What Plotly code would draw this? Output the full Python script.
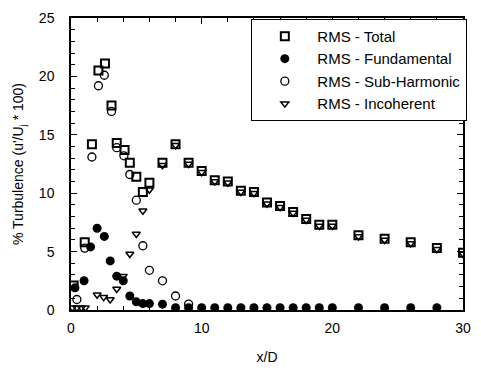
import plotly.graph_objects as go

# Data
tot_x = [0.2, 1.05, 1.6, 2.1, 2.6, 3.1, 3.5, 4.1, 4.5, 5.0, 5.5, 6.0, 7, 8, 9, 10, 11, 12, 13, 14, 15, 16, 17, 18, 19, 20, 22, 24, 26, 28, 30]
tot_y = [2.1, 5.8, 14.2, 20.5, 21.1, 17.5, 14.3, 13.7, 12.6, 11.4, 10.1, 10.9, 12.6, 14.2, 12.6, 11.9, 11.1, 11.0, 10.2, 10.1, 9.2, 8.9, 8.4, 7.8, 7.3, 7.3, 6.4, 6.1, 5.8, 5.3, 4.9]

fun_x = [0.3, 1.0, 1.5, 2.0, 2.55, 3.0, 3.5, 4.0, 4.5, 5.0, 5.5, 6.0, 7, 8, 9, 10, 11, 12, 13, 14, 15, 16, 17, 18, 19, 20, 22, 24, 26, 28]
fun_y = [1.9, 2.5, 5.4, 7.0, 6.3, 4.2, 2.9, 2.5, 1.2, 0.7, 0.55, 0.55, 0.5, 0.2, 0.2, 0.2, 0.2, 0.2, 0.2, 0.2, 0.2, 0.2, 0.2, 0.2, 0.2, 0.2, 0.2, 0.2, 0.2, 0.2]

sub_x = [0.45, 1.05, 1.6, 2.1, 2.55, 3.1, 3.5, 4.05, 4.5, 5.0, 5.5, 6.0, 7.0, 8.0, 9.0]
sub_y = [0.9, 5.3, 13.1, 19.2, 20.1, 17.0, 13.9, 13.2, 11.6, 9.4, 5.5, 3.4, 2.5, 1.2, 0.5]

inc_x = [0.1, 0.45, 0.8, 1.1, 2.0, 2.5, 3.0, 3.5, 4.0, 4.5, 5.0, 5.5, 6.0, 7, 8, 9, 10, 11, 12, 13, 14, 15, 16, 17, 18, 19, 20, 22, 24, 26, 28, 30]
inc_y = [0.2, 0.2, 0.2, 0.2, 1.3, 1.1, 0.9, 1.8, 2.9, 4.8, 6.5, 8.5, 10.3, 12.4, 14.1, 12.5, 11.8, 11.0, 10.9, 10.1, 10.0, 9.1, 8.8, 8.3, 7.7, 7.2, 7.2, 6.3, 6.0, 5.7, 5.2, 4.8]

names = ["RMS - Total", "RMS - Fundamental", "RMS - Sub-Harmonic", "RMS - Incoherent"]

FONT = "Liberation Sans, Arial, Helvetica, sans-serif"

fig = go.Figure()
fig.add_trace(go.Scatter(x=tot_x, y=tot_y, mode="markers", name=names[0],
                         marker=dict(symbol="square-open", size=8, color="black", line=dict(width=2))))
fig.add_trace(go.Scatter(x=fun_x, y=fun_y, mode="markers", name=names[1],
                         marker=dict(symbol="circle", size=9, color="black")))
fig.add_trace(go.Scatter(x=sub_x, y=sub_y, mode="markers", name=names[2],
                         marker=dict(symbol="circle-open", size=8, color="black", line=dict(width=1.3))))
fig.add_trace(go.Scatter(x=inc_x, y=inc_y, mode="markers", name=names[3],
                         marker=dict(symbol="triangle-down-open", size=7, color="black", line=dict(width=1.5))))

axis_common = dict(
    showline=True, linecolor="black", linewidth=1.5, mirror="ticks",
    ticks="inside", ticklen=6, tickwidth=1.2, tickcolor="black",
    showgrid=False, zeroline=False,
    tickfont=dict(family=FONT, size=14, color="black"),
)

fig.update_xaxes(range=[0, 30], tick0=0, dtick=10,
                 minor=dict(ticks="inside", ticklen=4, dtick=2, tickcolor="black", showgrid=False),
                 title=dict(text="x/D", font=dict(family=FONT, size=14, color="black"), standoff=18),
                 ticklabelstandoff=4, **axis_common)
fig.update_yaxes(range=[0, 25], tick0=0, dtick=5,
                 minor=dict(ticks="inside", ticklen=4, dtick=1, tickcolor="black", showgrid=False),
                 title=dict(text="% Turbulence (u'/U<sub>j</sub> * 100)", font=dict(family=FONT, size=14, color="black"), standoff=12),
                 ticklabelstandoff=12, **axis_common)

fig.update_layout(
    width=481, height=373,
    margin=dict(l=71, r=10, t=17, b=53),
    paper_bgcolor="white", plot_bgcolor="white",
    font=dict(family=FONT, size=14, color="black"),
    legend=dict(x=0.46, y=0.997, xanchor="left", yanchor="top",
                bordercolor="black", borderwidth=1, bgcolor="white",
                font=dict(family=FONT, size=15, color="black"),
                itemwidth=55, tracegroupgap=0),
    showlegend=True,
)

fig.write_html("out.html")
